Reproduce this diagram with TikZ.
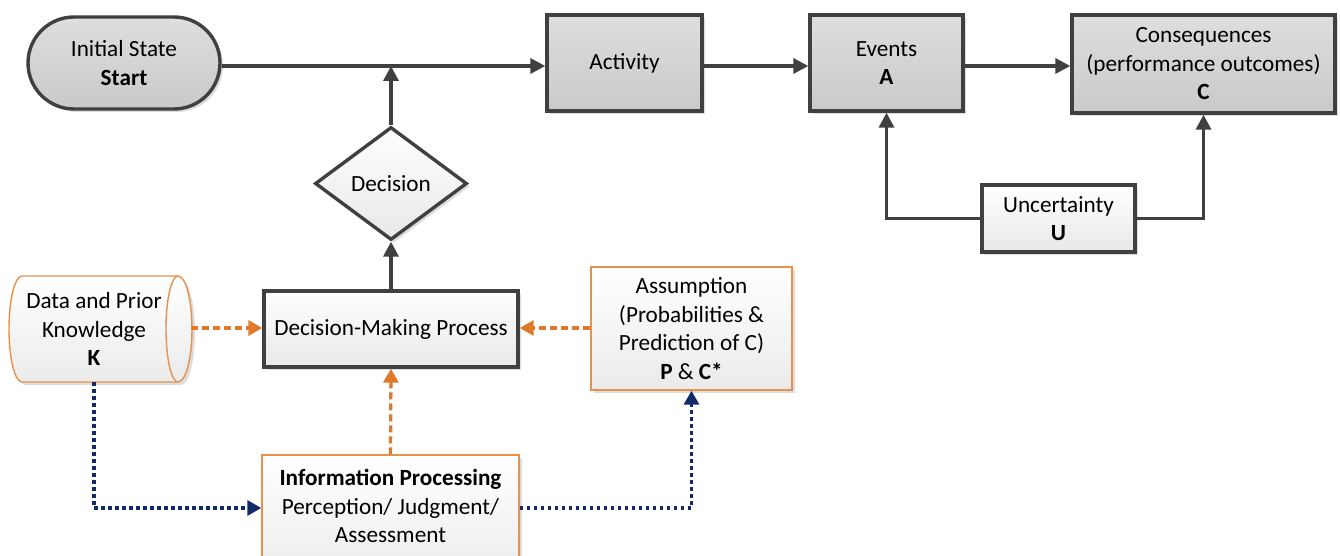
\documentclass[tikz,border=0pt]{standalone}
\usepackage{fontspec}
\setmainfont{Carlito}
\usetikzlibrary{arrows.meta,shapes.geometric,shadows,calc}

\definecolor{edge}{HTML}{404040}
\definecolor{orangeline}{HTML}{E07A2A}
\definecolor{orangeborder}{HTML}{E8914A}
\definecolor{navyline}{HTML}{102A6A}

\tikzset{
  every node/.style={font=\fontsize{23.2}{28.5}\selectfont, align=center, text=black},
  boxshadow/.style={drop shadow={shadow xshift=3pt, shadow yshift=-3pt, opacity=0.22, fill=black!60}},
  graybox/.style={draw=edge, line width=3.4pt, top color=black!13, bottom color=black!21, boxshadow, inner sep=0pt},
  lightbox/.style={draw=edge, line width=3.4pt, top color=white, bottom color=black!9, boxshadow, inner sep=0pt},
  orangebox/.style={draw=orangeborder, line width=1.4pt, top color=white, bottom color=black!8, boxshadow, inner sep=0pt},
  darrow/.style={draw=edge, line width=3.4pt, -{Triangle[length=15pt,width=15pt]}},
  oarrow/.style={draw=orangeline, line width=3.3pt, dash pattern=on 7pt off 4pt, -{Triangle[length=14pt,width=15pt]}},
  narrow/.style={draw=navyline, line width=3.3pt, dash pattern=on 3.5pt off 3.5pt, -{Triangle[length=14pt,width=15pt]}},
}

\begin{document}
\begin{tikzpicture}[x=1pt, y=-1pt]
\useasboundingbox (0,0) rectangle (1340,556);
\clip (0,0) rectangle (1340,556);

% top row
\node[graybox, rounded corners=46pt, minimum width=192pt, minimum height=92pt] (start) at (124,63) {Initial State\\\textbf{Start}};
\node[graybox, minimum width=155pt, minimum height=96pt] (activity) at (624.5,63) {Activity};
\node[graybox, minimum width=153pt, minimum height=96pt] (events) at (886.5,63) {Events\\\textbf{A}};
\node[graybox, minimum width=263pt, minimum height=98pt] (cons) at (1203.5,64) {Consequences\\(performance outcomes)\\\textbf{C}};

% uncertainty
\node[lightbox, minimum width=153pt, minimum height=67pt] (unc) at (1058.5,218.5) {Uncertainty\\\textbf{U}};

% decision branch
\node[diamond, lightbox, minimum width=152pt, minimum height=113pt, aspect=1.35] (decision) at (391,183.5) {Decision};
\node[lightbox, minimum width=254pt, minimum height=76pt] (dmp) at (391,329) {Decision-Making Process};

% knowledge store: drawn outline with a text node on top
\path[drop shadow={shadow xshift=3pt, shadow yshift=-3pt, opacity=0.22, fill=black!60},
      draw=orangeborder, line width=1.4pt, top color=white, bottom color=black!8]
  (22,276) -- (178,276) arc[start angle=90, end angle=-90, x radius=14pt, y radius=53pt]
  -- (22,382) arc[start angle=270, end angle=90, x radius=13pt, y radius=53pt] -- cycle;
\draw[orangeborder, line width=1.4pt] (178,276) arc[start angle=90, end angle=270, x radius=12pt, y radius=53pt];
\node[inner sep=0pt, minimum width=182pt, minimum height=106pt] (know) at (100,329) {};
\node (knowtext) at (94,329) {Data and Prior\\Knowledge\\\textbf{K}};

\node[orangebox, minimum width=201pt, minimum height=123pt] (assume) at (691.5,328.5) {Assumption\\(Probabilities \&\\Prediction of C)\\\textbf{P} \& \textbf{C*}};
\node[orangebox, minimum width=257pt, minimum height=130pt] (info) at (390.5,520) {};
\node (infotext) at (390.5,506) {\textbf{Information Processing}\\Perception/ Judgment/\\Assessment};

% main flow
\draw[darrow] (start.east |- 0,66) -- (activity.west |- 0,66);
\draw[darrow] (activity.east |- 0,66) -- (events.west |- 0,66);
\draw[darrow] (events.east |- 0,66) -- (cons.west |- 0,66);
\coordinate (join) at (decision.north |- 0,66);
\draw[darrow] (decision.north) -- (join);
\draw[darrow] (dmp.north) -- (decision.south);

% uncertainty feeds events and consequences
\draw[darrow] (unc.west) -| (events.south);
\draw[darrow] (unc.east) -| (cons.south);

% inputs to the decision-making process
\draw[oarrow] (know.east |- 0,328) -- (dmp.west |- 0,328);
\draw[oarrow] (assume.west |- 0,328) -- (dmp.east |- 0,328);
\draw[oarrow] (info.north) -- (dmp.south);

% information flow through processing
\coordinate (kdown) at (94,382);
\draw[narrow] (kdown) |- (info.west |- 0,508);
\draw[narrow] (info.east |- 0,508) -| (assume.south);
\end{tikzpicture}
\end{document}
